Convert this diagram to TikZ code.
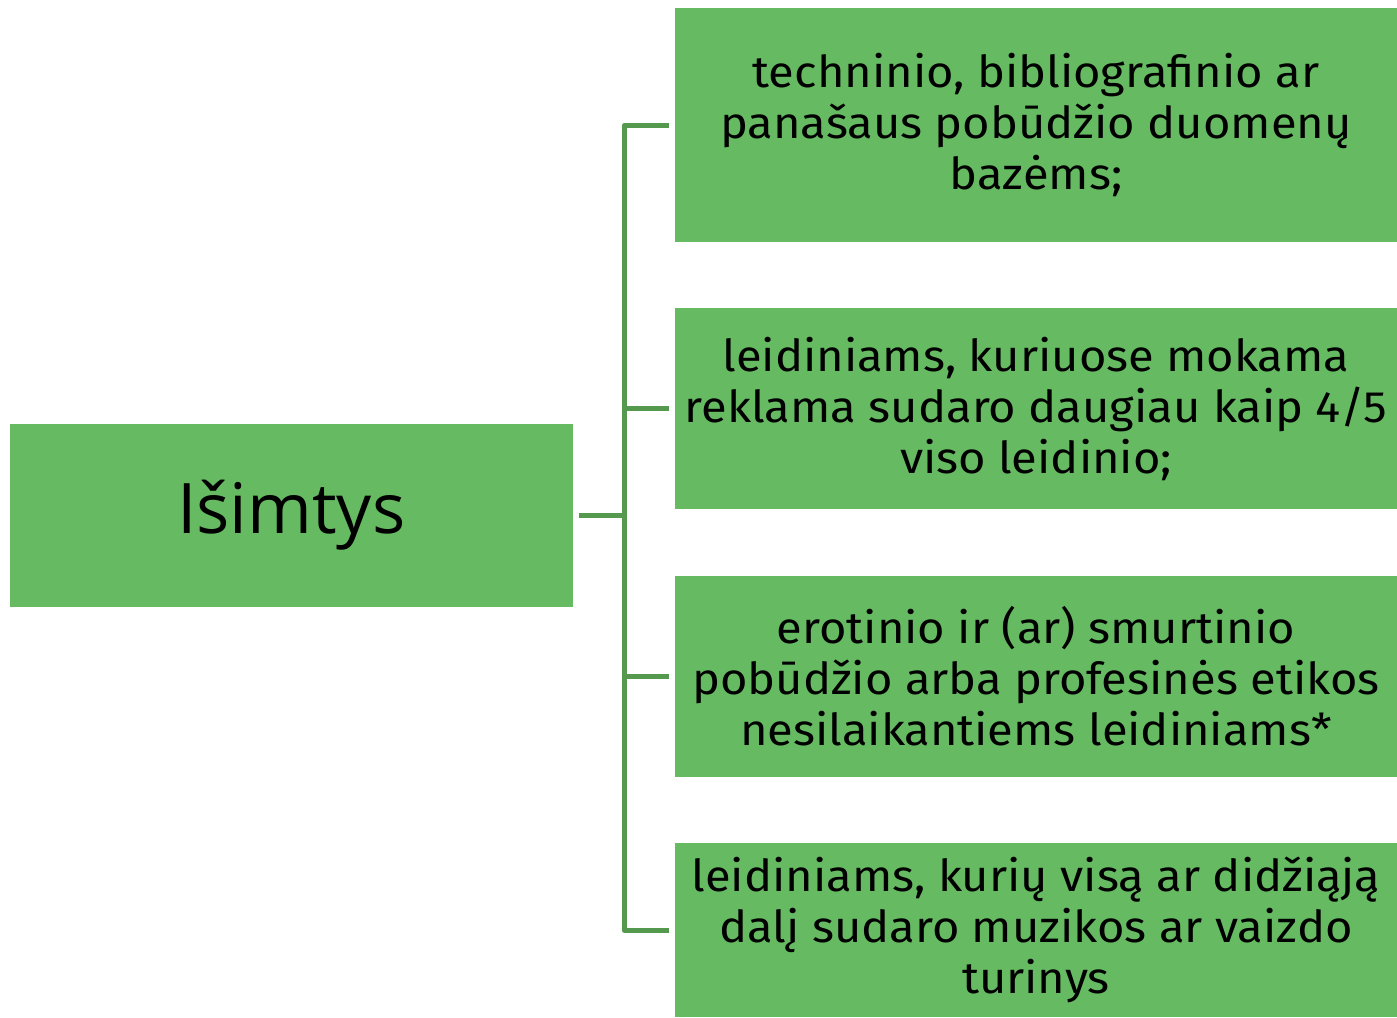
\documentclass[tikz,border=0pt]{standalone}
\usepackage{fontspec}
\usepackage{tikz}
\setmainfont[FakeStretch=1.07]{Fira Sans}
\newfontfamily\titlefont{Open Sans}
\definecolor{boxgreen}{RGB}{102,187,98}
\definecolor{linegreen}{RGB}{84,153,77}

\tikzset{
  leftbox/.style={fill=boxgreen, inner sep=0pt, minimum width=422.6pt, minimum height=137.6pt, font=\titlefont\fontsize{52.3}{56}\selectfont},
  rbox/.style={fill=boxgreen, inner sep=0pt, minimum width=541.5pt, align=center, font=\fontsize{33}{38.25}\selectfont},
  conn/.style={draw=linegreen, line width=3.5pt, line join=round}
}

\begin{document}
\begin{tikzpicture}[x=0.75pt,y=0.75pt,yscale=-1,xscale=1]
%set diagram left start at 0, and has height of 1018
\useasboundingbox (0,0) rectangle (1397,1018);

%Shape: Rectangle [id:isimtys]
\node (isim) [leftbox] at (291.25,515.25) {Išimtys};
%Shape: Rectangle [id:duomenu]
\node (duom) [rbox, minimum height=175.5pt] at (1036,125.3) {techninio, bibliografinio ar\\panašaus pobūdžio duomenų\\bazėms;};
%Shape: Rectangle [id:reklama]
\node (rekl) [rbox, minimum height=150.5pt] at (1036,408.65) {leidiniams, kuriuose mokama\\reklama sudaro daugiau kaip 4/5\\viso leidinio;};
%Shape: Rectangle [id:erotinio]
\node (erot) [rbox, minimum height=150.75pt] at (1036,676.2) {erotinio ir (ar) smurtinio\\pobūdžio arba profesinės etikos\\nesilaikantiems leidiniams*};
%Shape: Rectangle [id:muzikos]
\node (muz) [rbox, minimum height=130.6pt] at (1036,930.4) {leidiniams, kurių visą ar didžiąją\\dalį sudaro muzikos ar vaizdo\\turinys};

%Straight Lines
\foreach \b in {duom,rekl,erot,muz}
  \draw [conn] ([xshift=4.5pt]isim.east) -- ++(45,0) |- ([xshift=-4.5pt]\b.west);

\end{tikzpicture}
\end{document}
